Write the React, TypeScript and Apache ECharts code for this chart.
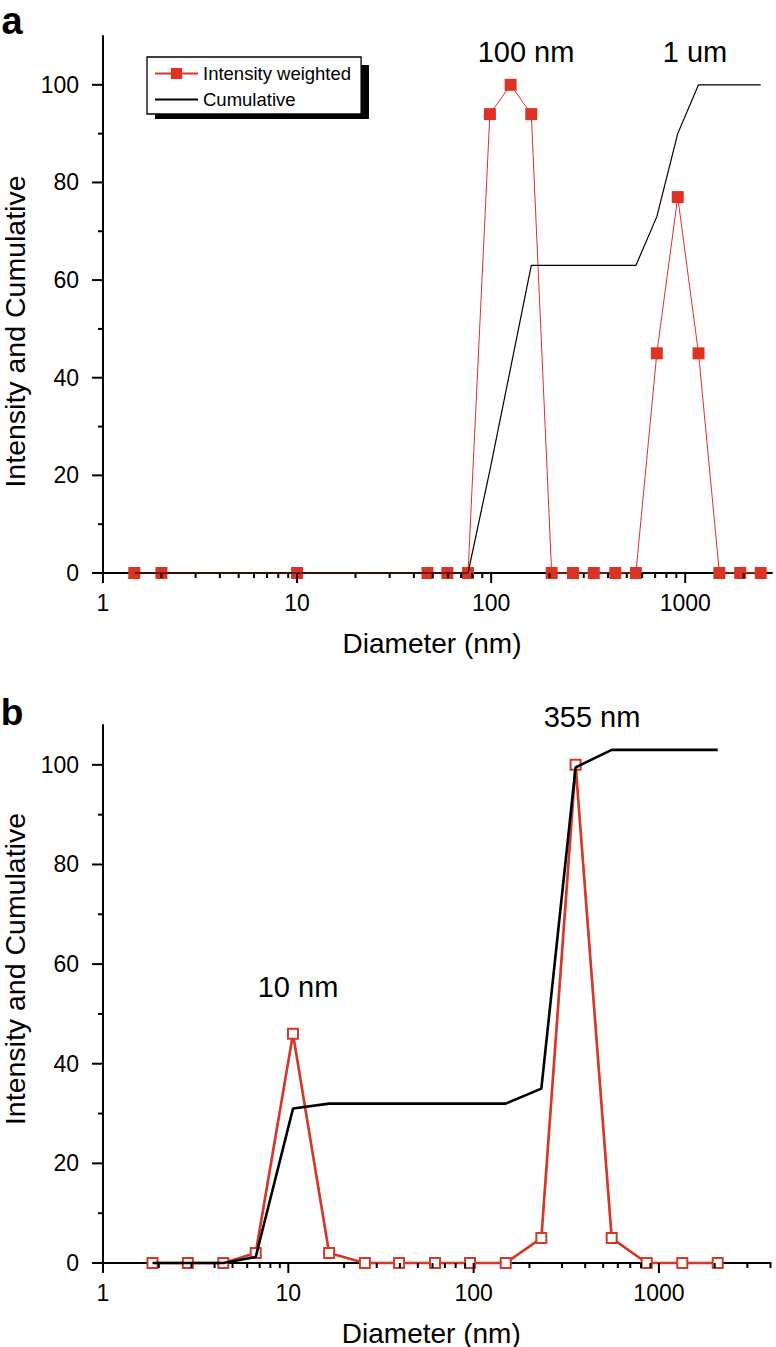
import React, { useEffect, useRef } from "react";
import * as echarts from "echarts";

// ---------- Panel a ----------
const DIAM_A = [1.45, 2.0, 10, 47, 59.5, 76, 98.5, 126, 161, 205, 264, 338, 436, 557, 714, 915, 1171, 1500, 1920, 2450];
const INTENSITY_A = [0, 0, 0, 0, 0, 0, 94, 100, 94, 0, 0, 0, 0, 0, 45, 77, 45, 0, 0, 0];
const CUMULATIVE_A = [0, 0, 0, 0, 0, 0, 21, 42, 63, 63, 63, 63, 63, 63, 73, 90, 100, 100, 100, 100];

// ---------- Panel b ----------
const DIAM_B = [1.85, 2.87, 4.46, 6.67, 10.6, 16.6, 25.9, 39.6, 61.9, 95.6, 149, 232, 355, 556, 859, 1337, 2076];
const INTENSITY_B = [0, 0, 0, 2, 46, 2, 0, 0, 0, 0, 0, 5, 100, 5, 0, 0, 0];
const CUMULATIVE_B = [0, 0, 0, 1.2, 31, 32, 32, 32, 32, 32, 32, 35, 99.5, 103, 103, 103, 103];

// ---------- Axes ----------
const X_MAJOR = [1, 10, 100, 1000];
const X_MINOR_A = [2, 3, 4, 5, 6, 7, 8, 9, 20, 30, 40, 50, 60, 70, 80, 90, 200, 300, 400, 500, 600, 700, 800, 900, 2000];
const X_MINOR_B = [2, 3, 4, 5, 6, 7, 8, 9, 20, 30, 40, 50, 60, 70, 80, 90, 200, 300, 400, 500, 600, 700, 800, 900, 2000, 3000, 4000];
const Y_MAJOR = [0, 20, 40, 60, 80, 100];
const Y_MINOR = [10, 30, 50, 70, 90];
const X_MIN = 1;
const X_MAX_A = 2800;
const X_MAX_B = 4000;
const Y_MAX_A = 110;
const Y_MAX_B = 108;

const SERIES_NAMES = ["Intensity weighted", "Cumulative"];
const PANEL_LABELS = ["a", "b"];
const PEAK_LABELS_A = ["100 nm", "1 um"];
const PEAK_LABELS_B = ["10 nm", "355 nm"];
const X_TITLE = "Diameter (nm)";
const Y_TITLE = "Intensity and Cumulative";

const FONT = "'Liberation Sans', Arial, Helvetica, sans-serif";
const RED = "#dc3324";
const RED_B = "#d2392b";

function pairs(xs: number[], ys: number[]) {
  return xs.map((x, i) => [x, ys[i]]);
}

function xAxisCfg(idx: number, max: number) {
  return {
    type: "log",
    logBase: 10,
    gridIndex: idx,
    min: X_MIN,
    max,
    axisLine: { show: true, onZero: false, lineStyle: { color: "#000", width: 2 } },
    axisTick: { show: false },
    minorTick: { show: false },
    splitLine: { show: false },
    axisLabel: {
      color: "#000",
      fontSize: 23,
      fontFamily: FONT,
      margin: 18,
      showMaxLabel: false,
      formatter: (v: number) => {
        const r = Math.round(v);
        return X_MAJOR.includes(r) && Math.abs(v - r) < 1e-6 * r ? String(r) : "";
      },
    },
    name: X_TITLE,
    nameLocation: "middle",
    nameGap: 56,
    nameTextStyle: { color: "#000", fontSize: 28, fontFamily: FONT, padding: [0, 11, 0, 0] },
  };
}

function yAxisCfg(idx: number, max: number, pad: number[]) {
  return {
    type: "value",
    gridIndex: idx,
    min: 0,
    max,
    interval: 20,
    axisLine: { show: true, onZero: false, lineStyle: { color: "#000", width: 2 } },
    axisTick: { show: false },
    splitLine: { show: false },
    axisLabel: {
      color: "#000",
      fontSize: 23,
      fontFamily: FONT,
      margin: 24,
      showMaxLabel: false,
      formatter: (v: number) => (Y_MAJOR.includes(v) ? String(v) : ""),
    },
    name: Y_TITLE,
    nameLocation: "middle",
    nameGap: 66,
    nameTextStyle: { color: "#000", fontSize: 28.5, fontFamily: FONT, padding: pad },
  };
}

function textEl(text: string, x: number, y: number, size: number, bold = false) {
  return {
    type: "text",
    x,
    y,
    z: 10,
    style: {
      text,
      fill: "#000",
      fontSize: size,
      fontFamily: FONT,
      fontWeight: bold ? "bold" : "normal",
      align: "center",
      verticalAlign: "middle",
    },
  };
}

export default function App() {
  const ref = useRef<HTMLDivElement>(null);

  useEffect(() => {
    if (!ref.current) return;
    const chart = echarts.init(ref.current, undefined, { renderer: "svg" });
    const option: any = {
      animation: false,
      backgroundColor: "#fff",
      grid: [
        { left: 103, top: 36, right: 4, bottom: 774, outerBoundsMode: "none", containLabel: false },
        { left: 103, top: 725, right: 5.5, bottom: 84, outerBoundsMode: "none", containLabel: false },
      ],
      xAxis: [xAxisCfg(0, X_MAX_A), xAxisCfg(1, X_MAX_B)],
      yAxis: [yAxisCfg(0, Y_MAX_A, [0, 54, 0, 0]), yAxisCfg(1, Y_MAX_B, [0, 0, 0, 50])],
      legend: {
        data: [
          { name: SERIES_NAMES[0] },
          { name: SERIES_NAMES[1], itemStyle: { opacity: 0 } },
        ],
        orient: "vertical",
        left: 147,
        top: 57,
        padding: [7, 10, 5, 7],
        itemGap: 7,
        itemWidth: 43,
        itemHeight: 14,
        backgroundColor: "#fff",
        borderColor: "#000",
        borderWidth: 1.3,
        borderRadius: 0,
        selectedMode: false,
        textStyle: { color: "#000", fontSize: 18.5, fontFamily: FONT },
        z: 5,
      },
      graphic: [
        { id: "shadow", type: "rect", left: 155, top: 65, z: 1, shape: { width: 214, height: 54 }, style: { fill: "#000" } },
        textEl(PANEL_LABELS[0], 12, 21, 38, true),
        textEl(PANEL_LABELS[1], 12, 712, 37, true),
        textEl(PEAK_LABELS_A[0], 526, 52, 29),
        textEl(PEAK_LABELS_A[1], 695, 52, 29),
        textEl(PEAK_LABELS_B[0], 298, 987, 29),
        textEl(PEAK_LABELS_B[1], 592, 717, 29),
      ],
      series: [
        {
          name: SERIES_NAMES[0],
          type: "line",
          xAxisIndex: 0,
          yAxisIndex: 0,
          data: pairs(DIAM_A, INTENSITY_A),
          symbol: "rect",
          symbolSize: 12,
          clip: false,
          z: 3,
          itemStyle: { color: RED },
          lineStyle: { color: RED, width: 1 },
          emphasis: { disabled: true },
        },
        {
          name: SERIES_NAMES[1],
          type: "line",
          xAxisIndex: 0,
          yAxisIndex: 0,
          data: pairs(DIAM_A, CUMULATIVE_A),
          symbol: "none",
          showSymbol: false,
          clip: false,
          z: 4,
          itemStyle: { color: "#000" },
          lineStyle: { color: "#000", width: 1.2 },
          emphasis: { disabled: true },
        },
        {
          name: "Intensity b",
          type: "line",
          xAxisIndex: 1,
          yAxisIndex: 1,
          data: pairs(DIAM_B, INTENSITY_B),
          symbol: "emptyRect",
          symbolSize: 10,
          clip: false,
          z: 3,
          itemStyle: { color: RED_B, borderWidth: 1.2 },
          lineStyle: { color: RED_B, width: 2.7 },
          emphasis: { disabled: true },
        },
        {
          name: "Cumulative b",
          type: "line",
          xAxisIndex: 1,
          yAxisIndex: 1,
          data: pairs(DIAM_B, CUMULATIVE_B),
          symbol: "none",
          clip: false,
          z: 4,
          itemStyle: { color: "#000" },
          lineStyle: { color: "#000", width: 2.6 },
          emphasis: { disabled: true },
        },
      ],
    };
    chart.setOption(option);

    // Axis tick marks: positions come from the axes' own scales via convertToPixel
    const tickEls: any[] = [];
    const addTicks = (gi: number, values: number[], dir: "x" | "y", len: number, tag: string) => {
      values.forEach((v, i) => {
        const p = chart.convertToPixel({ gridIndex: gi } as any, dir === "x" ? [v, 0] : [X_MIN, v]) as number[];
        if (!p) return;
        const shape =
          dir === "x"
            ? { x1: p[0], y1: p[1], x2: p[0], y2: p[1] + len }
            : { x1: p[0], y1: p[1], x2: p[0] - len, y2: p[1] };
        tickEls.push({
          id: `tick-${tag}-${i}`,
          type: "line",
          z: 6,
          silent: true,
          shape,
          style: { stroke: "#000", lineWidth: 2 },
        });
      });
    };
    addTicks(0, X_MAJOR, "x", 10, "a-xM");
    addTicks(0, X_MINOR_A, "x", 5, "a-xm");
    addTicks(0, Y_MAJOR, "y", 11, "a-yM");
    addTicks(0, Y_MINOR, "y", 5, "a-ym");
    addTicks(1, X_MAJOR, "x", 10, "b-xM");
    addTicks(1, X_MINOR_B, "x", 5, "b-xm");
    addTicks(1, Y_MAJOR, "y", 11, "b-yM");
    addTicks(1, Y_MINOR, "y", 5, "b-ym");
    chart.setOption({ graphic: tickEls });

    return () => chart.dispose();
  }, []);

  return (
    <div
      ref={ref}
      style={{ position: "absolute", left: 0, top: 0, width: 776, height: 1347, background: "#fff" }}
    />
  );
}
